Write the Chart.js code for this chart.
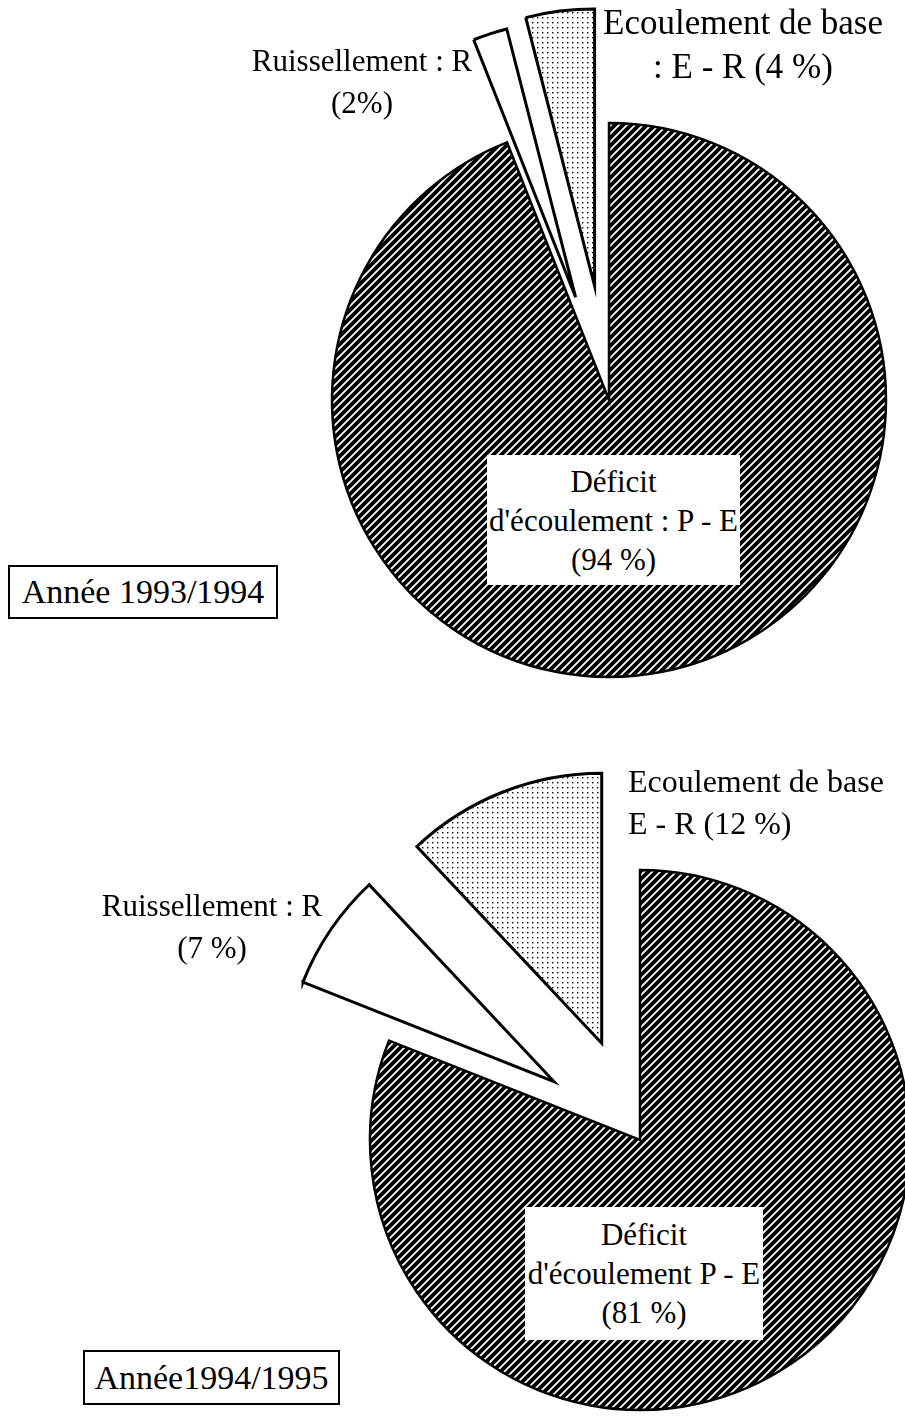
<!DOCTYPE html>
<html><head><meta charset="utf-8">
<script src="https://cdn.jsdelivr.net/npm/chart.js@4.4.0/dist/chart.umd.min.js"></script>
<style>
html,body{margin:0;padding:0;background:#fff;}
#page{position:relative;width:905px;height:1416px;overflow:hidden;font-family:"Liberation Serif","Times New Roman",serif;color:#000;}
canvas{position:absolute;left:0;}
.lbl{position:absolute;font-size:31px;line-height:42px;white-space:nowrap;}
.c{text-align:center;}
.box{position:absolute;background:#fff;text-align:center;font-size:31px;line-height:39px;white-space:nowrap;}
.year{position:absolute;border:2px solid #000;background:#fff;font-size:34px;line-height:40px;white-space:nowrap;box-sizing:border-box;text-align:center;}
</style>
</head><body>
<div id="page">
  <canvas id="c1" width="905" height="800" style="top:0;width:905px;height:800px"></canvas>
  <canvas id="c2" width="905" height="716" style="top:700px;width:905px;height:716px"></canvas>

  <div class="lbl c" style="left:212px;top:40px;width:300px">Ruissellement : R<br>(2%)</div>
  <div class="lbl c" style="left:593px;top:1px;width:300px;font-size:35px;line-height:44px">Ecoulement de base<br>: E - R (4 %)</div>
  <div class="box" style="left:487px;top:455px;width:253px;height:130px;padding-top:7px;box-sizing:border-box">Déficit<br>d'écoulement : P - E<br>(94 %)</div>
  <div class="year" style="left:8px;top:565px;width:270px;height:54px;padding-top:5px">Année 1993/1994</div>

  <div class="lbl c" style="left:62px;top:885px;width:300px">Ruissellement : R<br>(7 %)</div>
  <div class="lbl" style="left:628px;top:760px;font-size:32px">Ecoulement de base<br>E - R (12 %)</div>
  <div class="box" style="left:525px;top:1207px;width:238px;height:133px;padding-top:8px;box-sizing:border-box">Déficit<br>d'écoulement P - E<br>(81 %)</div>
  <div class="year" style="left:83px;top:1350px;width:257px;height:55px;padding-top:6px">Année1994/1995</div>
</div>
<script>
const categories = ["Déficit d'écoulement : P - E", "Ruissellement : R", "Ecoulement de base : E - R"];
const values1993 = [94, 2, 4];
const values1994 = [81, 7, 12];

function hatchPattern() {
  const s = 8, cv = document.createElement('canvas');
  cv.width = s; cv.height = s;
  const g = cv.getContext('2d');
  g.fillStyle = '#000'; g.fillRect(0, 0, s, s);
  g.strokeStyle = '#fff'; g.lineWidth = 1.8;
  g.beginPath();
  for (let k = -1; k <= 1; k++) {
    g.moveTo(k * s - 1, s + 1); g.lineTo(k * s + s + 1, -1);
  }
  g.stroke();
  return g.createPattern(cv, 'repeat');
}
function dotPattern() {
  const s = 5, cv = document.createElement('canvas');
  cv.width = s; cv.height = s;
  const g = cv.getContext('2d');
  g.fillStyle = '#fff'; g.fillRect(0, 0, s, s);
  g.fillStyle = '#000'; g.fillRect(2, 2, 1.4, 1.4);
  return g.createPattern(cv, 'repeat');
}
const hatch = hatchPattern(), dots = dotPattern();

// Pull slices out of the pie along their mid-angle, keeping their radius and angle.
const explode = {
  id: 'explode',
  beforeDatasetDraw(chart, args, opts) {
    const a = chart.chartArea;
    const cx = (a.left + a.right) / 2, cy = (a.top + a.bottom) / 2;
    args.meta.data.forEach((arc, i) => {
      const d = (opts.distances || [])[i] || 0;
      const mid = (arc.startAngle + arc.endAngle) / 2;
      arc.x = cx + Math.cos(mid) * d;
      arc.y = cy + Math.sin(mid) * d;
    });
  }
};

function makePie(id, values, radius, shifts, pad) {
  return new Chart(document.getElementById(id), {
    type: 'pie',
    data: {
      labels: categories,
      datasets: [{
        data: values,
        backgroundColor: [hatch, '#fff', dots],
        borderColor: '#000',
        borderWidth: [2.5, 3, 3],
        borderJoinStyle: 'miter',
        clip: false
      }]
    },
    options: {
      responsive: false,
      animation: false,
      radius: radius,
      layout: { padding: pad },
      plugins: {
        legend: { display: false },
        tooltip: { enabled: false },
        explode: { distances: shifts }
      },
      events: []
    },
    plugins: [explode]
  });
}
makePie('c1', values1993, 277, [0, 108, 115], { left: 313, right: 0, top: 0, bottom: 0 });
makePie('c2', values1994, 270, [0, 104, 104], { left: 375, right: 0, top: 164, bottom: 0 });
</script>
</body></html>
